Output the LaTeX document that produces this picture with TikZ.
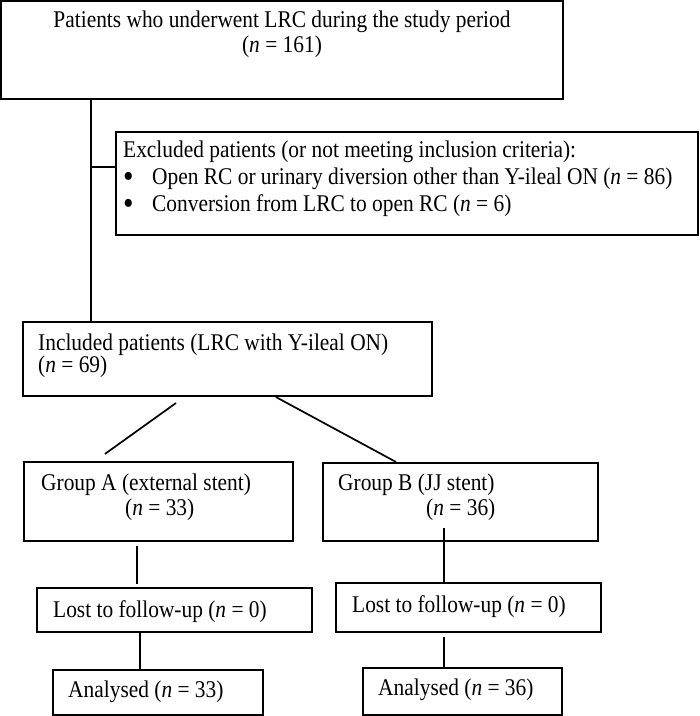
\documentclass[tikz,border=0pt]{standalone}
\usepackage{fontspec}
\setmainfont{Liberation Serif}
\usepackage{tikz}
\usetikzlibrary{calc,positioning}
\newcommand{\tall}[1]{\scalebox{1}[1.12]{#1}}
\newcommand{\bigdot}{\makebox[29bp][l]{\raisebox{-2bp}{\scalebox{1.4}{\textbullet}}}}

\begin{document}
\begin{tikzpicture}[x=1bp,y=-1bp]
\tikzstyle{box}=[rectangle, draw, line width=2.1bp, inner sep=0pt]
\tikzstyle{txt}=[inner sep=0pt, anchor=west, font=\fontsize{21.4bp}{25bp}\selectfont]
\tikzstyle{link}=[line width=1.7bp]
\useasboundingbox (0,0) rectangle (700,716);

% boxes
\node[box, minimum width=562bp, minimum height=98bp] (top) at (282,50) {};
\node[box, minimum width=582bp, minimum height=103bp] (excl) at (407,183.5) {};
\node[box, minimum width=409bp, minimum height=74bp] (incl) at (227.5,359) {};
\node[box, minimum width=269bp, minimum height=79bp] (grpA) at (158.5,501.5) {};
\node[box, minimum width=275bp, minimum height=78bp] (grpB) at (460.5,502) {};
\node[box, minimum width=275bp, minimum height=44bp] (lostA) at (174.5,610) {};
\node[box, minimum width=265bp, minimum height=49bp] (lostB) at (468.5,607.5) {};
\node[box, minimum width=210bp, minimum height=45bp] (anaA) at (158,692.5) {};
\node[box, minimum width=199bp, minimum height=47bp] (anaB) at (462.5,691.5) {};

% texts
\node[txt, anchor=center] (toptxt) at (282,22) {\tall{Patients who underwent LRC during the study period}};
\node[txt, anchor=center] (topn) at (282,47) {\tall{(\textit{n} = 161)}};
\node[txt, align=left, font=\fontsize{21.4bp}{27bp}\selectfont] (excltxt) at (123,179)
  {\tall{Excluded patients (or not meeting inclusion criteria):}\\
   \tall{\bigdot Open RC or urinary diversion other than Y-ileal ON (\textit{n} = 86)}\\
   \tall{\bigdot Conversion from LRC to open RC (\textit{n} = 6)}};
\node[txt] (incltxt) at (38,345) {\tall{Included patients (LRC with Y-ileal ON)}};
\node[txt] (incln) at (38,367) {\tall{(\textit{n} = 69)}};
\node[txt] (grpAtxt) at (41,485) {\tall{Group A (external stent)}};
\node[txt] (grpAn) at (125,510) {\tall{(\textit{n} = 33)}};
\node[txt] (grpBtxt) at (338,485) {\tall{Group B (JJ stent)}};
\node[txt] (grpBn) at (426,510) {\tall{(\textit{n} = 36)}};
\node[txt] (lostAtxt) at (53,612) {\tall{Lost to follow-up (\textit{n} = 0)}};
\node[txt] (lostBtxt) at (352,607) {\tall{Lost to follow-up (\textit{n} = 0)}};
\node[txt] (anaAtxt) at (68,692) {\tall{Analysed (\textit{n} = 33)}};
\node[txt] (anaBtxt) at (378,690) {\tall{Analysed (\textit{n} = 36)}};

% connectors
\coordinate (trunk) at ([xshift=91bp]top.south west);
\draw[link] (trunk) -- ([xshift=69bp]incl.north west);
\draw[link] ([yshift=-36bp]excl.north west) -- ([yshift=-36bp]excl.north west -| trunk);
\draw[link] ([xshift=154bp,yshift=-6bp]incl.south west) -- ([xshift=82bp,yshift=7bp]grpA.north west);
\draw[link] ([xshift=254bp]incl.south west) -- ([xshift=74bp]grpB.north west);
\foreach \a/\i/\b/\j/\u/\v in {grpA/114/lostA/101/-4/3, lostA/104/anaA/88/0/0,
  grpB/122/lostB/109/14/0, lostB/109/anaB/82/-4/0}
  {\draw[link] ([xshift=\i bp,yshift=\u bp]\a.south west) -- ([xshift=\j bp,yshift=\v bp]\b.north west);}
\end{tikzpicture}
\end{document}
